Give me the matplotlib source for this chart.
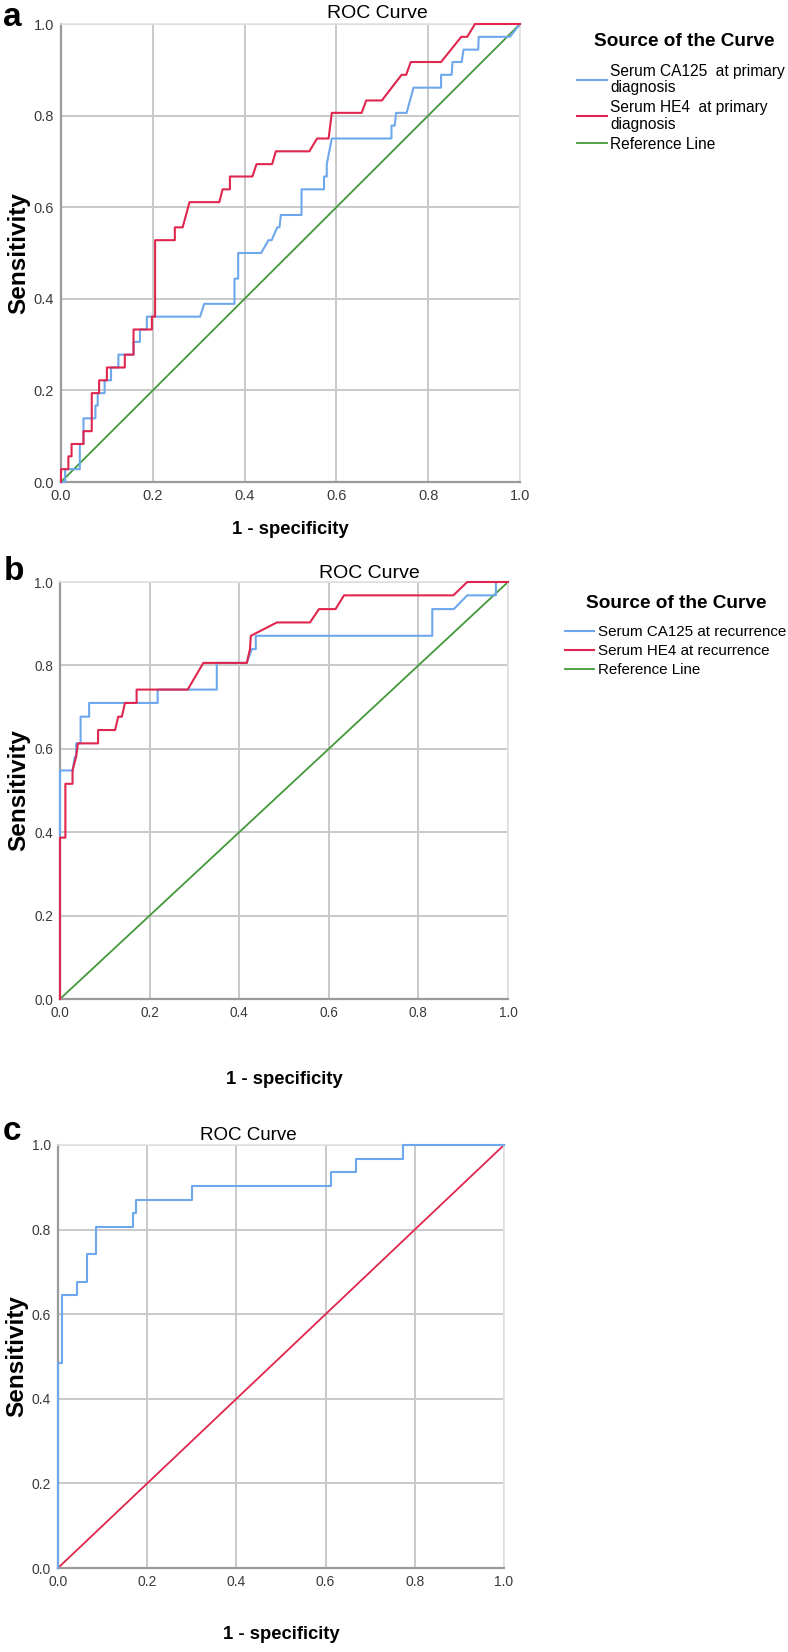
import matplotlib
matplotlib.use('Agg')
import matplotlib.pyplot as plt

plt.rcParams['font.family'] = ['Liberation Sans', 'DejaVu Sans']

# painel a - diagnostico primario
a_ca125_x = [0, 0.009, 0.009, 0.041, 0.041, 0.049, 0.049, 0.075, 0.075, 0.080, 0.080, 0.095, 0.095,
             0.109, 0.109, 0.125, 0.125, 0.158, 0.158, 0.172, 0.172, 0.187, 0.187, 0.303, 0.312,
             0.378, 0.378, 0.386, 0.386, 0.436, 0.452, 0.459, 0.471, 0.476, 0.479, 0.524, 0.524,
             0.573, 0.573, 0.579, 0.579, 0.590, 0.720, 0.720, 0.727, 0.730, 0.753, 0.768, 0.828,
             0.828, 0.851, 0.853, 0.873, 0.877, 0.909, 0.910, 0.978, 1.0]
a_ca125_y = [0, 0, 0.028, 0.028, 0.083, 0.083, 0.139, 0.139, 0.167, 0.167, 0.194, 0.194, 0.222,
             0.222, 0.250, 0.250, 0.278, 0.278, 0.306, 0.306, 0.333, 0.333, 0.361, 0.361, 0.389,
             0.389, 0.444, 0.444, 0.500, 0.500, 0.528, 0.528, 0.556, 0.556, 0.583, 0.583, 0.639,
             0.639, 0.667, 0.667, 0.694, 0.750, 0.750, 0.778, 0.778, 0.806, 0.806, 0.861, 0.861,
             0.889, 0.889, 0.917, 0.917, 0.944, 0.944, 0.972, 0.972, 1.0]
a_he4_x = [0, 0, 0.016, 0.016, 0.023, 0.023, 0.049, 0.049, 0.067, 0.067, 0.083, 0.083, 0.100,
           0.100, 0.139, 0.139, 0.158, 0.158, 0.198, 0.198, 0.205, 0.205, 0.248, 0.248, 0.265,
           0.280, 0.345, 0.352, 0.368, 0.368, 0.417, 0.426, 0.460, 0.468, 0.541, 0.558, 0.583,
           0.590, 0.655, 0.665, 0.699, 0.742, 0.752, 0.762, 0.828, 0.872, 0.885, 0.902, 1.0]
a_he4_y = [0, 0.028, 0.028, 0.056, 0.056, 0.083, 0.083, 0.111, 0.111, 0.194, 0.194, 0.222, 0.222,
           0.250, 0.250, 0.278, 0.278, 0.333, 0.333, 0.361, 0.361, 0.528, 0.528, 0.556, 0.556,
           0.611, 0.611, 0.639, 0.639, 0.667, 0.667, 0.694, 0.694, 0.722, 0.722, 0.750, 0.750,
           0.806, 0.806, 0.833, 0.833, 0.889, 0.889, 0.917, 0.917, 0.972, 0.972, 1.0, 1.0]

# painel b - recorrencia
b_ca125_x = [0, 0, 0.028, 0.033, 0.036, 0.036, 0.046, 0.046, 0.065, 0.065, 0.218, 0.218, 0.350,
             0.350, 0.417, 0.428, 0.437, 0.437, 0.831, 0.831, 0.879, 0.909, 0.973, 0.973, 1.0]
b_ca125_y = [0, 0.548, 0.548, 0.581, 0.581, 0.613, 0.613, 0.677, 0.677, 0.710, 0.710, 0.742,
             0.742, 0.806, 0.806, 0.839, 0.839, 0.871, 0.871, 0.935, 0.935, 0.968, 0.968, 1.0, 1.0]
b_he4_x = [0, 0, 0.012, 0.012, 0.028, 0.028, 0.036, 0.040, 0.085, 0.085, 0.123, 0.130, 0.138,
           0.145, 0.171, 0.171, 0.285, 0.320, 0.417, 0.424, 0.426, 0.484, 0.558, 0.578, 0.615,
           0.634, 0.878, 0.909, 1.0]
b_he4_y = [0, 0.387, 0.387, 0.516, 0.516, 0.548, 0.581, 0.613, 0.613, 0.645, 0.645, 0.677, 0.677,
           0.710, 0.710, 0.742, 0.742, 0.806, 0.806, 0.839, 0.871, 0.903, 0.903, 0.935, 0.935,
           0.968, 0.968, 1.0, 1.0]

# painel c
c_x = [0, 0, 0.008, 0.008, 0.043, 0.043, 0.064, 0.064, 0.085, 0.085, 0.169, 0.169, 0.176, 0.176,
       0.301, 0.301, 0.612, 0.612, 0.669, 0.669, 0.774, 0.774, 1.0]
c_y = [0, 0.484, 0.484, 0.645, 0.645, 0.677, 0.677, 0.742, 0.742, 0.806, 0.806, 0.839, 0.839,
       0.871, 0.871, 0.903, 0.903, 0.935, 0.935, 0.968, 0.968, 1.0, 1.0]

ref_x = [0, 1]
ref_y = [0, 1]
ticks = [0.0, 0.2, 0.4, 0.6, 0.8, 1.0]

azul = '#6ea8ec'
vermelho = '#e0264f'
verde = '#43993a'

W, H = 788, 1652
fig = plt.figure(figsize=(W / 100, H / 100), dpi=100)


def eixo(left, top, right, bottom):
    return fig.add_axes([left / W, 1 - bottom / H, (right - left) / W, (bottom - top) / H])


def estilo(ax, y_xlabel, tick_fs):
    ax.set_xlim(0, 1)
    ax.set_ylim(0, 1)
    ax.set_xticks(ticks)
    ax.set_yticks(ticks)
    ax.set_xticklabels(['%.1f' % t for t in ticks])
    ax.set_yticklabels(['%.1f' % t for t in ticks])
    ax.tick_params(length=0, labelsize=tick_fs, labelcolor='#3a3a3a', pad=5)
    ax.grid(True, color='#c9c9c9', linewidth=1.4)
    ax.set_axisbelow(True)
    for s in ['top', 'right']:
        ax.spines[s].set_color('#e2e2e2')
        ax.spines[s].set_linewidth(1.2)
    for s in ['left', 'bottom']:
        ax.spines[s].set_color('#9a9a9a')
        ax.spines[s].set_linewidth(1.6)
    ax.set_xlabel('1 - specificity', fontsize=13.3, fontweight='bold')
    ax.set_ylabel('Sensitivity', fontsize=17.5, fontweight='bold')
    ax.xaxis.set_label_coords(0.5, y_xlabel)
    ax.yaxis.set_label_coords(-0.066, 0.5)


def legenda(handles, labels, x_handle, y_top, fs, x_tit, y_tit):
    leg = fig.legend(handles, labels, loc='upper left', bbox_to_anchor=(x_handle / W, 1 - y_top / H),
                     frameon=False, fontsize=fs, borderpad=0, borderaxespad=0,
                     handlelength=1.9, handletextpad=0.25, labelspacing=0.33)
    for t in leg.get_texts():
        t.set_linespacing(1.1)
    fig.text(x_tit / W, 1 - y_tit / H, 'Source of the Curve', fontsize=13.7, fontweight='bold',
             ha='center', va='center')
    return leg


lw = 1.5

# a
ax1 = eixo(61, 24, 520, 482)
l1, = ax1.plot(a_ca125_x, a_ca125_y, color=azul, lw=lw, clip_on=False, zorder=3)
l2, = ax1.plot(a_he4_x, a_he4_y, color=vermelho, lw=lw, clip_on=False, zorder=4)
l3, = ax1.plot(ref_x, ref_y, color=verde, lw=1.3, clip_on=False, zorder=2)
estilo(ax1, -0.086, 10.5)
fig.text(377 / W, 1 - 13 / H, 'ROC Curve', fontsize=14, ha='center', va='center')
fig.text(3 / W, 1 - 18 / H, 'a', fontsize=24, fontweight='bold', ha='left', va='center')
legenda([l1, l2, l3],
        ['Serum CA125  at primary\ndiagnosis', 'Serum HE4  at primary\ndiagnosis', 'Reference Line'],
        577, 64, 11.2, 684, 42)

# b
ax2 = eixo(60, 582, 508, 999)
m1, = ax2.plot(b_ca125_x, b_ca125_y, color=azul, lw=lw, clip_on=False, zorder=3)
m2, = ax2.plot(b_he4_x, b_he4_y, color=vermelho, lw=lw, clip_on=False, zorder=4)
m3, = ax2.plot(ref_x, ref_y, color=verde, lw=1.3, clip_on=False, zorder=2)
estilo(ax2, -0.172, 9.8)
fig.text(369 / W, 1 - 573 / H, 'ROC Curve', fontsize=14, ha='center', va='center')
fig.text(4 / W, 1 - 572 / H, 'b', fontsize=24, fontweight='bold', ha='left', va='center')
legenda([m1, m2, m3], ['Serum CA125 at recurrence', 'Serum HE4 at recurrence', 'Reference Line'],
        565, 625, 10.9, 676, 603)

# c
ax3 = eixo(58, 1145, 504, 1568)
ax3.plot(c_x, c_y, color=azul, lw=lw, clip_on=False, zorder=3)
ax3.plot(ref_x, ref_y, color=vermelho, lw=1.3, clip_on=False, zorder=2)
estilo(ax3, -0.137, 10)
fig.text(248 / W, 1 - 1135 / H, 'ROC Curve', fontsize=13.5, ha='center', va='center')
fig.text(3 / W, 1 - 1131 / H, 'c', fontsize=24, fontweight='bold', ha='left', va='center')

fig.savefig('out.png', dpi=100)
